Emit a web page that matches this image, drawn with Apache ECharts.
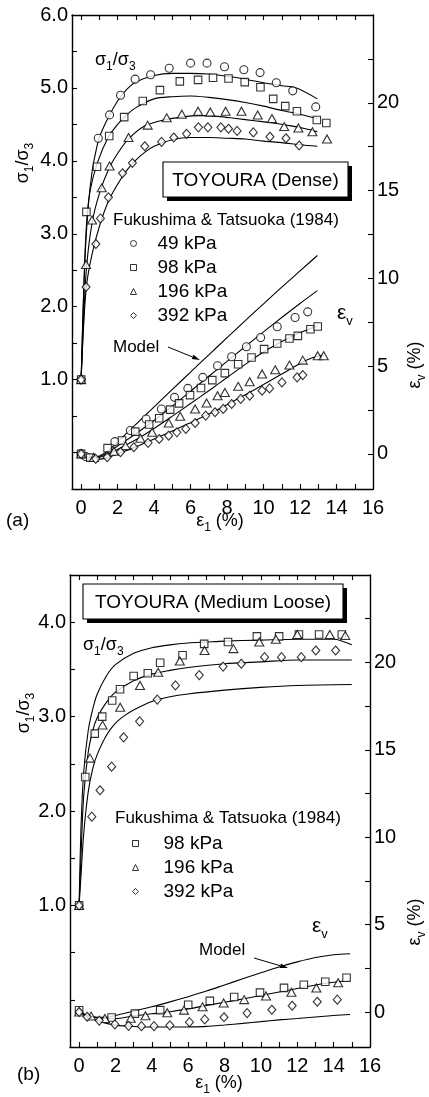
<!DOCTYPE html>
<html><head><meta charset="utf-8">
<script src="https://cdn.jsdelivr.net/npm/echarts@6/dist/echarts.min.js"></script>
<style>html,body{margin:0;padding:0;background:#fff}#c{width:429px;height:1097px}</style>
</head><body><div id="c"></div>
<script>
const FONT = '"Liberation Sans", Arial, Helvetica, sans-serif';
const BLACK = '#000';

// ---------- Panel (a): TOYOURA (Dense) — experimental points [eps1, value] ----------
const aSig49  = [[0,1.0],[0.94,4.31],[1.56,4.63],[2.16,4.9],[2.96,5.12],[3.81,5.18],[4.83,5.27],[6.0,5.34],[6.9,5.34],[7.86,5.29],[8.92,5.25],[9.81,5.21],[10.7,5.07],[11.6,4.96],[12.86,4.74]];
const aSig98  = [[0,1.0],[0.29,3.3],[0.87,3.92],[1.54,4.34],[2.36,4.6],[3.38,4.82],[4.32,4.97],[5.41,5.09],[6.41,5.11],[7.23,5.14],[8.08,5.13],[8.97,5.08],[9.83,5.01],[10.53,4.85],[11.19,4.75],[11.83,4.68],[12.92,4.56],[13.44,4.52]];
const aSig196 = [[0,1.0],[0.27,2.58],[0.6,3.19],[1.13,3.63],[1.56,3.93],[2.6,4.32],[3.65,4.49],[4.69,4.59],[5.52,4.64],[6.41,4.68],[7.08,4.67],[7.92,4.68],[8.79,4.68],[9.68,4.63],[10.46,4.58],[11.13,4.47],[11.91,4.45],[12.68,4.4],[13.48,4.3]];
const aSig392 = [[0,1.0],[0.27,2.27],[0.81,2.86],[1.06,3.21],[1.5,3.5],[2.27,3.83],[2.81,3.97],[3.49,4.2],[4.41,4.26],[5.08,4.32],[5.78,4.37],[6.43,4.46],[6.95,4.46],[7.66,4.46],[8.08,4.44],[8.55,4.41],[9.44,4.39],[10.35,4.33],[11.23,4.31],[11.95,4.21]];
const aEv49  = [[0,0],[0.25,-0.15],[1.85,0.7],[2.7,1.33],[3.56,1.99],[4.4,2.56],[5.12,3.22],[5.85,3.73],[6.67,4.36],[7.48,5.02],[8.25,5.53],[9.06,6.1],[9.84,6.63],[10.75,7.24],[11.73,7.77],[12.42,8.09]];
const aEv98  = [[0,0],[0.5,-0.21],[1.45,0.33],[2.24,0.76],[2.97,1.27],[3.73,1.67],[4.28,2.03],[4.88,2.52],[5.37,2.88],[5.97,3.35],[6.57,3.75],[7.19,4.2],[7.88,4.6],[8.61,5.11],[9.34,5.49],[10.03,5.97],[10.75,6.29],[11.42,6.57],[11.88,6.72],[12.57,7.1],[12.97,7.26]];
const aEv196 = [[0,0],[0.7,-0.2],[1.8,0.15],[2.43,0.47],[3.25,0.89],[3.89,1.23],[4.8,1.76],[5.43,2.14],[6.25,2.56],[6.88,2.9],[7.48,3.31],[7.88,3.5],[8.61,3.85],[9.24,4.11],[9.92,4.55],[10.64,4.79],[11.42,5.06],[12.15,5.34],[12.97,5.59],[13.3,5.59]];
const aEv392 = [[0,0],[0.8,-0.28],[1.43,-0.19],[2.16,0.1],[2.89,0.38],[3.67,0.63],[4.28,0.85],[4.8,1.04],[5.25,1.23],[5.74,1.42],[6.25,1.76],[6.83,2.18],[7.34,2.37],[7.79,2.56],[8.25,2.84],[8.75,3.13],[9.24,3.31],[9.92,3.6],[10.33,3.73],[11.01,4.07],[11.84,4.36],[12.15,4.49]];
// model curves (a)
const aModSig1 = [[0,1],[0.2,2.6],[0.4,3.4],[0.6,3.85],[0.8,4.12],[1.0,4.32],[1.5,4.6],[2,4.82],[2.5,4.98],[3,5.08],[4,5.17],[5,5.2],[6,5.2],[7,5.19],[8,5.16],[9,5.12],[10,5.07],[11,5.03],[11.8,5.0],[12.95,4.85]];
const aModSig2 = [[0,1],[0.15,2.3],[0.3,3.15],[0.5,3.6],[0.9,3.98],[1.5,4.33],[2,4.5],[2.5,4.63],[3,4.73],[4,4.85],[5,4.88],[6,4.89],[7,4.87],[8,4.84],[9,4.8],[10,4.75],[11,4.69],[12,4.64],[12.95,4.58]];
const aModSig3 = [[0,1],[0.15,1.9],[0.3,2.55],[0.6,3.15],[1,3.55],[1.5,3.88],[2,4.1],[2.6,4.3],[3.5,4.48],[4.5,4.56],[5.5,4.6],[6.5,4.62],[7.5,4.61],[8.5,4.58],[9.5,4.55],[10.5,4.52],[11.5,4.48],[12.3,4.44],[12.95,4.4]];
const aModSig4 = [[0,1],[0.15,1.8],[0.3,2.3],[0.6,2.72],[1,3.1],[1.5,3.45],[2,3.68],[2.5,3.87],[3,4.01],[3.5,4.12],[4,4.2],[5,4.29],[6,4.32],[7,4.32],[8,4.31],[9,4.3],[10,4.27],[11,4.25],[12,4.22],[12.95,4.2]];
const aModEv1 = [[0,0],[0.5,-0.2],[1,-0.12],[1.5,0.2],[2,0.68],[3,1.68],[4,2.68],[5,3.67],[6,4.66],[7,5.64],[8,6.62],[9,7.59],[10,8.55],[11,9.5],[12,10.42],[12.95,11.3]];
const aModEv2 = [[0,0],[0.5,-0.2],[1,-0.15],[1.5,0.1],[2,0.45],[3,1.15],[4,1.9],[5,2.72],[6,3.57],[7,4.42],[8,5.27],[9,6.12],[10,6.95],[11,7.77],[12,8.57],[12.95,9.3]];
const aModEv3 = [[0,0],[0.5,-0.22],[1,-0.2],[1.5,0],[2,0.25],[3,0.8],[4,1.45],[5,2.15],[6,2.87],[7,3.6],[8,4.35],[9,5.1],[10,5.8],[11,6.4],[12,6.9],[12.95,7.3]];
const aModEv4 = [[0,0],[0.5,-0.25],[1,-0.3],[1.5,-0.2],[2,0],[3,0.4],[4,0.85],[5,1.3],[6,1.78],[7,2.27],[8,2.8],[9,3.37],[10,3.95],[11,4.55],[12,5.15],[12.6,5.45],[13.2,5.62]];

// ---------- Panel (b): TOYOURA (Medium Loose) ----------
const bSig98  = [[0,1.0],[0.34,2.36],[0.86,2.82],[1.27,3.0],[1.82,3.17],[2.25,3.29],[3.0,3.43],[3.78,3.46],[4.46,3.57],[5.69,3.65],[6.88,3.77],[8.19,3.79],[9.78,3.85],[11.0,3.85],[12.09,3.87],[13.2,3.87],[14.45,3.87]];
const bSig196 = [[0,1.0],[0.6,2.56],[1.29,2.91],[2.26,3.1],[3.35,3.33],[4.35,3.47],[5.54,3.59],[6.9,3.7],[8.49,3.72],[9.91,3.79],[10.82,3.82],[12.0,3.87],[13.79,3.87],[14.64,3.86]];
const bSig392 = [[0,1.0],[0.7,1.94],[1.15,2.22],[1.79,2.47],[2.45,2.78],[3.33,2.95],[4.3,3.18],[5.3,3.33],[6.61,3.44],[7.92,3.53],[8.92,3.56],[10.2,3.63],[11.13,3.63],[12.22,3.63],[13.02,3.7],[14.11,3.7]];
const bEv98  = [[0,0.1],[1.79,-0.31],[3.07,-0.09],[4.46,0.11],[6.0,0.42],[7.19,0.64],[8.53,0.86],[9.95,1.11],[11.27,1.38],[12.36,1.56],[13.54,1.73],[14.71,1.96]];
const bEv196 = [[0,0],[0.66,-0.23],[1.42,-0.37],[2.84,-0.36],[3.65,-0.21],[4.85,-0.04],[5.77,0.11],[6.79,0.3],[7.95,0.52],[9.08,0.71],[10.28,0.92],[11.68,1.13],[13.05,1.38],[14.25,1.68]];
const bEv392 = [[0,0],[0.44,-0.27],[1.11,-0.49],[1.97,-0.71],[2.72,-0.79],[3.43,-0.81],[4.12,-0.81],[4.99,-0.76],[6.07,-0.58],[6.91,-0.42],[7.97,-0.3],[9.24,-0.06],[10.6,0.13],[11.72,0.36],[13.1,0.59],[14.2,0.71]];
const bModSig1 = [[0,1],[0.1,1.8],[0.25,2.4],[0.5,2.85],[0.75,3.08],[1,3.24],[1.5,3.43],[2,3.55],[3,3.67],[4,3.73],[5,3.76],[6,3.78],[7,3.79],[8,3.8],[10,3.81],[12,3.82],[14,3.82],[15,3.76]];
const bModSig2 = [[0,1],[0.1,1.5],[0.25,2.15],[0.5,2.62],[0.75,2.85],[1,2.99],[1.5,3.15],[2,3.26],[3,3.38],[4,3.45],[5,3.49],[6,3.52],[8,3.56],[10,3.58],[12,3.6],[15,3.6]];
const bModSig3 = [[0,1],[0.1,1.3],[0.25,1.75],[0.5,2.2],[0.75,2.45],[1,2.6],[1.5,2.8],[2,2.93],[2.5,3.01],[3,3.07],[4,3.16],[5,3.21],[6,3.24],[8,3.28],[10,3.31],[12,3.33],[15,3.34]];
const bModEv1 = [[0,0],[0.5,-0.2],[1,-0.3],[1.5,-0.3],[2,-0.2],[3,0.05],[4,0.3],[5,0.58],[6,0.88],[7,1.2],[8,1.55],[9,1.9],[10,2.25],[11,2.58],[12,2.87],[13,3.12],[14,3.28],[14.9,3.33]];
const bModEv2 = [[0,0],[0.5,-0.2],[1,-0.33],[2,-0.38],[3,-0.22],[4,-0.1],[5,0.02],[6,0.18],[7,0.37],[8,0.56],[9,0.75],[10,0.95],[11,1.15],[12,1.35],[13,1.55],[14,1.7],[14.9,1.8]];
const bModEv3 = [[0,0],[0.5,-0.3],[1,-0.5],[1.5,-0.65],[2,-0.75],[3,-0.83],[4,-0.86],[5,-0.86],[6,-0.85],[7,-0.82],[8,-0.74],[9,-0.65],[10,-0.55],[11,-0.45],[12,-0.37],[13,-0.28],[14,-0.2],[14.9,-0.14]];

// ---------- ticks / labels ----------
const xTickLabels = [0,2,4,6,8,10,12,14,16];
const xTickMarks  = [0,1,2,3,4,5,6,7,8,9,10,11,12,13,14,15];
const aLeftLabels = [1,2,3,4,5,6];
const aLeftTicks  = [0,0.5,1,1.5,2,2.5,3,3.5,4,4.5,5,5.5];
const bLeftLabels = [1,2,3,4];
const bLeftTicks  = [0,0.5,1,1.5,2,2.5,3,3.5,4];
const rightLabels = [0,5,10,15,20];
const rightTicks  = [0,2.5,5,7.5,10,12.5,15,17.5,20,22.5];
const legendA = ['49 kPa','98 kPa','196 kPa','392 kPa'];
const legendB = ['98 kPa','196 kPa','392 kPa'];

const chart = echarts.init(document.getElementById('c'));

function xAx(grid, pos, showLabel) {
  return {type:'value', gridIndex:grid, position:pos, min:-0.5, max:16,
    axisLine:{show:true, onZero:false, lineStyle:{color:BLACK, width:1.4}},
    axisTick:{show:true, inside:true, length:5, customValues:xTickMarks, lineStyle:{color:BLACK, width:1.1}},
    axisLabel:{show:showLabel, customValues:xTickLabels, margin:9, color:BLACK, fontSize:20, fontFamily:FONT},
    splitLine:{show:false}};
}
function yAx(grid, pos, min, max, ticks, labels, fmt) {
  return {type:'value', gridIndex:grid, position:pos, min:min, max:max,
    axisLine:{show:true, onZero:false, lineStyle:{color:BLACK, width:1.4}},
    axisTick:{show:true, inside:true, length:5, customValues:ticks, lineStyle:{color:BLACK, width:1.1}},
    axisLabel:{show:true, customValues:labels, margin:4, color:BLACK, fontSize:20, fontFamily:FONT, formatter:fmt},
    splitLine:{show:false}};
}
const f1 = v => Number(v).toFixed(1);
const f0 = v => String(Math.round(v));

function pts(name, data, sym, xi, yi, size) {
  return {type:'scatter', name:name, data:data, symbol:sym, symbolSize:size,
    xAxisIndex:xi, yAxisIndex:yi, z:4, silent:true,
    itemStyle:{color:'#fff', borderColor:BLACK, borderWidth:1.1}};
}
function curve(data, xi, yi) {
  return {type:'line', name:'Model', data:data, symbol:'none', showSymbol:false,
    smooth:0.3, xAxisIndex:xi, yAxisIndex:yi, z:3, silent:true,
    lineStyle:{color:BLACK, width:1.1}};
}
const SZ = {circle:8, rect:7.5, triangle:[9,8], diamond:[8,9]};

const richBase = (m, s) => ({
  m:{fontSize:m, fontFamily:FONT, color:BLACK, verticalAlign:'top', lineHeight:m+4},
  s:{fontSize:s, fontFamily:FONT, color:BLACK, verticalAlign:'bottom', lineHeight:m+4}
});
function rtext(x, y, str, m, s, rot, align) {
  return {type:'text', x:x, y:y, rotation:rot || 0, silent:true,
    style:{text:str, rich:richBase(m, s), align:align || 'center', verticalAlign:'middle'}};
}
function ptext(x, y, str, size, align) {
  return {type:'text', x:x, y:y, silent:true,
    style:{text:str, fontSize:size, fontFamily:FONT, fill:BLACK, align:align || 'left', verticalAlign:'middle'}};
}
function box(x, y, w, h, str) {
  return [
    {type:'rect', shape:{x:x+4, y:y+4, width:w, height:h}, style:{fill:BLACK}, silent:true},
    {type:'rect', shape:{x:x, y:y, width:w, height:h}, style:{fill:'#fff', stroke:BLACK, lineWidth:1.1}, silent:true},
    ptext(x + w/2, y + h/2 + 1, str, 19, 'center')
  ];
}
function arrow(x1, y1, x2, y2) {
  const dx = x2-x1, dy = y2-y1, L = Math.hypot(dx, dy), ux = dx/L, uy = dy/L;
  const bx = x2 - 8*ux, by = y2 - 8*uy, nx = -uy, ny = ux;
  return [
    {type:'line', shape:{x1:x1, y1:y1, x2:bx, y2:by}, style:{stroke:BLACK, lineWidth:1}, silent:true},
    {type:'polygon', shape:{points:[[x2,y2],[bx+2.3*nx,by+2.3*ny],[bx-2.3*nx,by-2.3*ny]]}, style:{fill:BLACK}, silent:true}
  ];
}

const legendCommon = {orient:'vertical', padding:0, itemGap:5, itemWidth:6, itemHeight:6, selectedMode:false,
  itemStyle:{color:'#fff', borderColor:BLACK, borderWidth:1}};

const option = {
  animation:false,
  backgroundColor:'#fff',
  grid:[{left:72, top:15, width:301, height:474}, {left:70, top:575, width:300, height:472}],
  xAxis:[xAx(0,'bottom',true), xAx(0,'top',false), xAx(1,'bottom',true), xAx(1,'top',false)],
  yAxis:[yAx(0,'left',-0.5,6,aLeftTicks,aLeftLabels,f1), yAx(0,'right',-2,25,rightTicks,rightLabels,f0),
         yAx(1,'left',-0.5,4.5,bLeftTicks,bLeftLabels,f1), yAx(1,'right',-2,25,rightTicks,rightLabels,f0)],
  legend:[
    Object.assign({}, legendCommon, {data:legendA, left:130, top:234,
      textStyle:{fontSize:19, fontFamily:FONT, color:BLACK, padding:[0,0,0,16]}}),
    Object.assign({}, legendCommon, {data:legendB, left:132, top:834,
      textStyle:{fontSize:19, fontFamily:FONT, color:BLACK, padding:[0,0,0,20]}})
  ],
  series:[
    curve(aModSig1,0,0), curve(aModSig2,0,0), curve(aModSig3,0,0), curve(aModSig4,0,0),
    curve(aModEv1,0,1), curve(aModEv2,0,1), curve(aModEv3,0,1), curve(aModEv4,0,1),
    pts('49 kPa', aSig49, 'circle', 0, 0, SZ.circle), pts('98 kPa', aSig98, 'rect', 0, 0, SZ.rect),
    pts('196 kPa', aSig196, 'triangle', 0, 0, SZ.triangle), pts('392 kPa', aSig392, 'diamond', 0, 0, SZ.diamond),
    pts('49 kPa', aEv49, 'circle', 0, 1, SZ.circle), pts('98 kPa', aEv98, 'rect', 0, 1, SZ.rect),
    pts('196 kPa', aEv196, 'triangle', 0, 1, SZ.triangle), pts('392 kPa', aEv392, 'diamond', 0, 1, SZ.diamond),
    curve(bModSig1,2,2), curve(bModSig2,2,2), curve(bModSig3,2,2),
    curve(bModEv1,2,3), curve(bModEv2,2,3), curve(bModEv3,2,3),
    pts('98 kPa', bSig98, 'rect', 2, 2, SZ.rect), pts('196 kPa', bSig196, 'triangle', 2, 2, SZ.triangle),
    pts('392 kPa', bSig392, 'diamond', 2, 2, SZ.diamond),
    pts('98 kPa', bEv98, 'rect', 2, 3, SZ.rect), pts('196 kPa', bEv196, 'triangle', 2, 3, SZ.triangle),
    pts('392 kPa', bEv392, 'diamond', 2, 3, SZ.diamond)
  ],
  graphic:[].concat(
    // panel (a)
    [rtext(95, 62, '{m|σ}{s|1}{m|/σ}{s|3}', 18, 12, 0, 'left'),
     rtext(25, 163, '{m|σ}{s|1}{m|/σ}{s|3}', 18, 12, Math.PI/2, 'center'),
     rtext(417, 365, '{m|ε}{s|v}{m| (%)}', 18, 12, Math.PI/2, 'center'),
     rtext(220, 523, '{m|ε}{s|1}{m| (%)}', 18, 12, 0, 'center'),
     ptext(6, 521, '(a)', 19, 'left'),
     ptext(113, 220, 'Fukushima & Tatsuoka (1984)', 17, 'left'),
     rtext(337, 315, '{m|ε}{s|v}', 21, 13, 0, 'left'),
     ptext(113, 347, 'Model', 17, 'left')],
    box(163, 162, 185, 35, 'TOYOURA (Dense)'),
    arrow(168, 347, 200, 360),
    // panel (b)
    [rtext(83, 647, '{m|σ}{s|1}{m|/σ}{s|3}', 18, 12, 0, 'left'),
     rtext(26, 713, '{m|σ}{s|1}{m|/σ}{s|3}', 18, 12, Math.PI/2, 'center'),
     rtext(417, 922, '{m|ε}{s|v}{m| (%)}', 18, 12, Math.PI/2, 'center'),
     rtext(219, 1085, '{m|ε}{s|1}{m| (%)}', 18, 12, 0, 'center'),
     ptext(17, 1075, '(b)', 19, 'left'),
     ptext(115, 818, 'Fukushima & Tatsuoka (1984)', 17, 'left'),
     rtext(312, 928, '{m|ε}{s|v}', 21, 13, 0, 'left'),
     ptext(199, 950, 'Model', 17, 'left')],
    box(83, 584, 260, 35, 'TOYOURA (Medium Loose)'),
    arrow(254, 958, 288, 968)
  )
};
chart.setOption(option);
</script>
</body></html>
